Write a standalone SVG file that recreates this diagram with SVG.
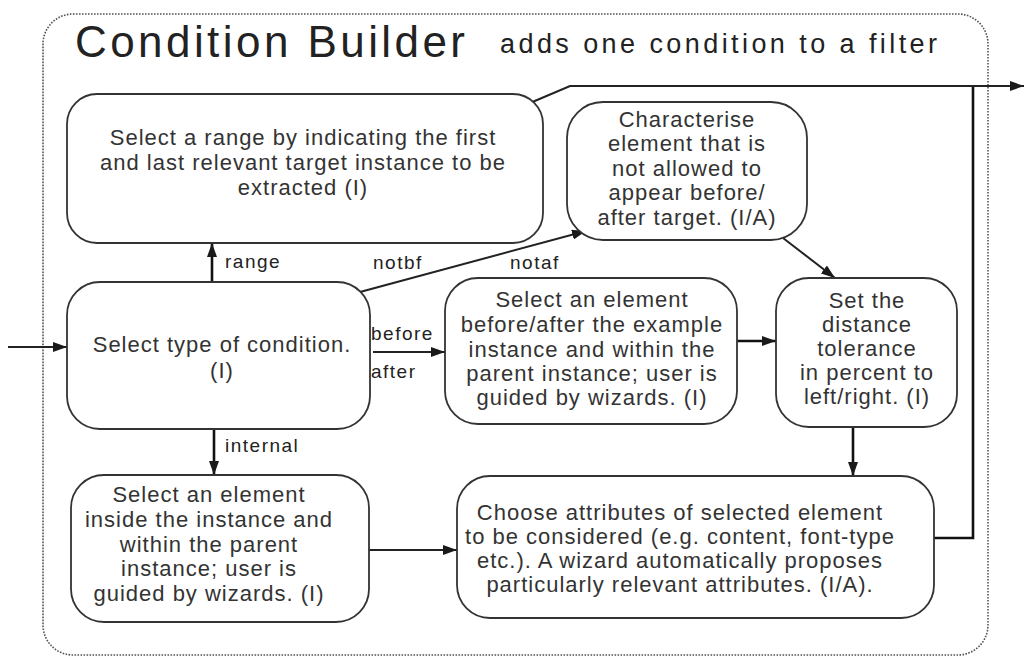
<svg xmlns="http://www.w3.org/2000/svg" width="1024" height="657" viewBox="0 0 1024 657">
<defs>
<style>
.box{fill:#fff;stroke:#333;stroke-width:1.8}
.t{font-family:"Liberation Sans",Arial,sans-serif;font-size:22px;letter-spacing:1px;fill:#333;text-anchor:middle}
.lbl{font-family:"Liberation Sans",Arial,sans-serif;font-size:19px;letter-spacing:1.5px;fill:#222}
.c{fill:none;stroke:#222;stroke-width:2}
.ct{fill:none;stroke:#111;stroke-width:2.6}
</style>
<marker id="ah" viewBox="0 0 14 10" refX="14" refY="5" markerWidth="14" markerHeight="10" markerUnits="userSpaceOnUse" orient="auto">
<path d="M0,0 L14,5 L0,10 z" fill="#1a1a1a"/>
</marker>
</defs>
<rect width="1024" height="657" fill="#fff"/>
<g id="frame">
<rect x="43" y="14" width="945" height="641" rx="30" fill="none" stroke="#555" stroke-width="1.6" stroke-dasharray="1.6 1.4"/>
<text x="75" y="57" font-family="'Liberation Sans',Arial,sans-serif" font-size="44" fill="#222" textLength="390" lengthAdjust="spacing">Condition Builder</text>
<text x="500" y="53" font-family="'Liberation Sans',Arial,sans-serif" font-size="27" fill="#222" textLength="437" lengthAdjust="spacing">adds one condition to a filter</text>
</g>
<g id="connectors">
<line class="c" x1="8" y1="347" x2="67" y2="347" marker-end="url(#ah)"/>
<line class="ct" x1="212" y1="282" x2="212" y2="243" marker-end="url(#ah)"/>
<line class="c" x1="360" y1="292" x2="586" y2="231" marker-end="url(#ah)"/>
<line class="c" x1="373" y1="352" x2="445" y2="352" marker-end="url(#ah)"/>
<line class="ct" x1="214" y1="429" x2="214" y2="475" marker-end="url(#ah)"/>
<line class="c" x1="783" y1="238" x2="835" y2="278" marker-end="url(#ah)"/>
<line class="ct" x1="737" y1="341" x2="776" y2="341" marker-end="url(#ah)"/>
<line class="ct" x1="853" y1="427" x2="853" y2="476" marker-end="url(#ah)"/>
<line class="c" x1="369" y1="550" x2="457" y2="550" marker-end="url(#ah)"/>
<polyline class="ct" points="934,538 973,538 973,86"/>
<polyline class="c" points="530,103 570,86 1024,86" marker-end="url(#ah)"/>
<text class="lbl" x="225" y="268">range</text>
<text class="lbl" x="373" y="269">notbf</text>
<text class="lbl" x="510" y="269">notaf</text>
<text class="lbl" x="371" y="340">before</text>
<text class="lbl" x="371" y="378">after</text>
<text class="lbl" x="225" y="452">internal</text>
</g>
<g id="range">
<rect class="box" x="67" y="94" width="476" height="149" rx="30"/>
<text class="t" x="303" y="145">Select a range by indicating the first</text>
<text class="t" x="303" y="170">and last relevant target instance to be</text>
<text class="t" x="303" y="195">extracted (I)</text>
</g>
<g id="type">
<rect class="box" x="67" y="282" width="303" height="147" rx="33"/>
<text class="t" x="222" y="352">Select type of condition.</text>
<text class="t" x="222" y="378">(I)</text>
</g>
<g id="characterise">
<rect class="box" x="567" y="102" width="240" height="138" rx="36"/>
<text class="t" x="687" y="127">Characterise</text>
<text class="t" x="687" y="151">element that is</text>
<text class="t" x="687" y="176">not allowed to</text>
<text class="t" x="687" y="200">appear before/</text>
<text class="t" x="687" y="225">after target. (I/A)</text>
</g>
<g id="beforeafter">
<rect class="box" x="445" y="278" width="292" height="146" rx="33"/>
<text class="t" x="592" y="307">Select an element</text>
<text class="t" x="592" y="332">before/after the example</text>
<text class="t" x="592" y="357">instance and within the</text>
<text class="t" x="592" y="381">parent instance; user is</text>
<text class="t" x="592" y="405">guided by wizards. (I)</text>
</g>
<g id="distance">
<rect class="box" x="776" y="278" width="181" height="149" rx="33"/>
<text class="t" x="867" y="308">Set the</text>
<text class="t" x="867" y="332">distance</text>
<text class="t" x="867" y="356">tolerance</text>
<text class="t" x="867" y="380">in percent to</text>
<text class="t" x="867" y="404">left/right. (I)</text>
</g>
<g id="internalbox">
<rect class="box" x="71" y="475" width="298" height="147" rx="33"/>
<text class="t" x="209" y="502">Select an element</text>
<text class="t" x="209" y="527">inside the instance and</text>
<text class="t" x="209" y="552">within the parent</text>
<text class="t" x="209" y="576">instance; user is</text>
<text class="t" x="209" y="601">guided by wizards. (I)</text>
</g>
<g id="choose">
<rect class="box" x="457" y="476" width="477" height="142" rx="33"/>
<text class="t" x="680" y="520">Choose attributes of selected element</text>
<text class="t" x="680" y="544">to be considered (e.g. content, font-type</text>
<text class="t" x="680" y="568">etc.). A wizard automatically proposes</text>
<text class="t" x="680" y="592">particularly relevant attributes. (I/A).</text>
</g>
</svg>
